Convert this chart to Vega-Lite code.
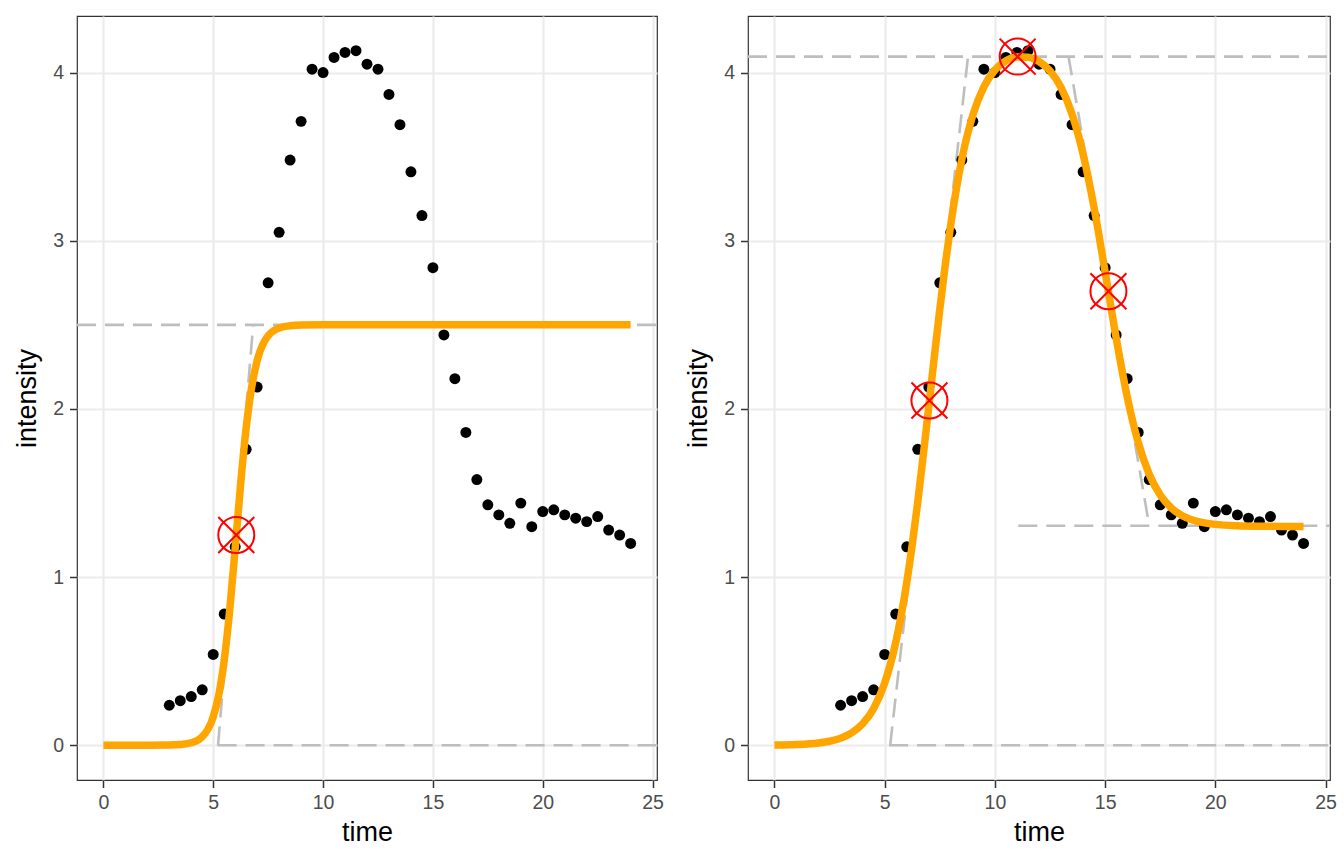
{
  "$schema": "https://vega.github.io/schema/vega-lite/v6.json",
  "background": "white",
  "padding": {"left": 13, "top": 15, "right": 10, "bottom": 5},
  "bounds": "flush",
  "spacing": 91,
  "datasets": {
    "obs": [
      {"t": 3, "y": 0.238}, {"t": 3.5, "y": 0.265}, {"t": 4, "y": 0.29}, {"t": 4.5, "y": 0.33},
      {"t": 5, "y": 0.54}, {"t": 5.5, "y": 0.78}, {"t": 6, "y": 1.18}, {"t": 6.5, "y": 1.76},
      {"t": 7, "y": 2.13}, {"t": 7.5, "y": 2.75}, {"t": 8, "y": 3.05}, {"t": 8.5, "y": 3.48},
      {"t": 9, "y": 3.71}, {"t": 9.5, "y": 4.02}, {"t": 10, "y": 4.0}, {"t": 10.5, "y": 4.09},
      {"t": 11, "y": 4.12}, {"t": 11.5, "y": 4.13}, {"t": 12, "y": 4.05}, {"t": 12.5, "y": 4.02},
      {"t": 13, "y": 3.87}, {"t": 13.5, "y": 3.69}, {"t": 14, "y": 3.41}, {"t": 14.5, "y": 3.15},
      {"t": 15, "y": 2.84}, {"t": 15.5, "y": 2.44}, {"t": 16, "y": 2.18}, {"t": 16.5, "y": 1.86},
      {"t": 17, "y": 1.58}, {"t": 17.5, "y": 1.43}, {"t": 18, "y": 1.37}, {"t": 18.5, "y": 1.32},
      {"t": 19, "y": 1.44}, {"t": 19.5, "y": 1.3}, {"t": 20, "y": 1.39}, {"t": 20.5, "y": 1.4},
      {"t": 21, "y": 1.37}, {"t": 21.5, "y": 1.35}, {"t": 22, "y": 1.33}, {"t": 22.5, "y": 1.36},
      {"t": 23, "y": 1.28}, {"t": 23.5, "y": 1.25}, {"t": 24, "y": 1.2}
    ],
    "fit": [
      {"panel": "sigmoidal", "t": 0, "y": 0}, {"panel": "sigmoidal", "t": 1, "y": 0},
      {"panel": "sigmoidal", "t": 2, "y": 0.0001}, {"panel": "sigmoidal", "t": 3, "y": 0.0012},
      {"panel": "sigmoidal", "t": 3.5, "y": 0.0043}, {"panel": "sigmoidal", "t": 4, "y": 0.0148},
      {"panel": "sigmoidal", "t": 4.5, "y": 0.0508}, {"panel": "sigmoidal", "t": 5, "y": 0.169},
      {"panel": "sigmoidal", "t": 5.25, "y": 0.298}, {"panel": "sigmoidal", "t": 5.5, "y": 0.5045},
      {"panel": "sigmoidal", "t": 5.75, "y": 0.802}, {"panel": "sigmoidal", "t": 6, "y": 1.172},
      {"panel": "sigmoidal", "t": 6.25, "y": 1.556}, {"panel": "sigmoidal", "t": 6.5, "y": 1.887},
      {"panel": "sigmoidal", "t": 6.75, "y": 2.13}, {"panel": "sigmoidal", "t": 7, "y": 2.287},
      {"panel": "sigmoidal", "t": 7.25, "y": 2.381}, {"panel": "sigmoidal", "t": 7.5, "y": 2.435},
      {"panel": "sigmoidal", "t": 7.75, "y": 2.4648}, {"panel": "sigmoidal", "t": 8, "y": 2.481},
      {"panel": "sigmoidal", "t": 8.5, "y": 2.4945}, {"panel": "sigmoidal", "t": 9, "y": 2.4985},
      {"panel": "sigmoidal", "t": 10, "y": 2.5}, {"panel": "sigmoidal", "t": 12, "y": 2.5},
      {"panel": "sigmoidal", "t": 16, "y": 2.5}, {"panel": "sigmoidal", "t": 20, "y": 2.5},
      {"panel": "sigmoidal", "t": 24, "y": 2.5},
      {"panel": "double", "t": 0, "y": 0.0014}, {"panel": "double", "t": 1, "y": 0.0044},
      {"panel": "double", "t": 2, "y": 0.0137}, {"panel": "double", "t": 2.5, "y": 0.024},
      {"panel": "double", "t": 3, "y": 0.042}, {"panel": "double", "t": 3.5, "y": 0.0733},
      {"panel": "double", "t": 4, "y": 0.1273}, {"panel": "double", "t": 4.5, "y": 0.2189},
      {"panel": "double", "t": 5, "y": 0.3703}, {"panel": "double", "t": 5.5, "y": 0.6105},
      {"panel": "double", "t": 6, "y": 0.967}, {"panel": "double", "t": 6.25, "y": 1.192},
      {"panel": "double", "t": 6.5, "y": 1.4465}, {"panel": "double", "t": 6.75, "y": 1.7235},
      {"panel": "double", "t": 7, "y": 2.014}, {"panel": "double", "t": 7.25, "y": 2.308},
      {"panel": "double", "t": 7.5, "y": 2.593}, {"panel": "double", "t": 7.75, "y": 2.859},
      {"panel": "double", "t": 8, "y": 3.098}, {"panel": "double", "t": 8.5, "y": 3.484},
      {"panel": "double", "t": 9, "y": 3.748}, {"panel": "double", "t": 9.5, "y": 3.9156},
      {"panel": "double", "t": 10, "y": 4.0152}, {"panel": "double", "t": 10.5, "y": 4.07},
      {"panel": "double", "t": 11, "y": 4.0924}, {"panel": "double", "t": 11.5, "y": 4.091},
      {"panel": "double", "t": 12, "y": 4.0657}, {"panel": "double", "t": 12.5, "y": 4.0098},
      {"panel": "double", "t": 13, "y": 3.9111}, {"panel": "double", "t": 13.5, "y": 3.752},
      {"panel": "double", "t": 14, "y": 3.5152}, {"panel": "double", "t": 14.5, "y": 3.1956},
      {"panel": "double", "t": 15, "y": 2.8147}, {"panel": "double", "t": 15.5, "y": 2.422},
      {"panel": "double", "t": 16, "y": 2.073}, {"panel": "double", "t": 16.5, "y": 1.8015},
      {"panel": "double", "t": 17, "y": 1.6114}, {"panel": "double", "t": 17.5, "y": 1.4878},
      {"panel": "double", "t": 18, "y": 1.4113}, {"panel": "double", "t": 18.5, "y": 1.3653},
      {"panel": "double", "t": 19, "y": 1.3383}, {"panel": "double", "t": 19.5, "y": 1.3225},
      {"panel": "double", "t": 20, "y": 1.3134}, {"panel": "double", "t": 21, "y": 1.3051},
      {"panel": "double", "t": 22, "y": 1.3023}, {"panel": "double", "t": 23, "y": 1.3015},
      {"panel": "double", "t": 24, "y": 1.3011}
    ],
    "guides": [
      {"panel": "sigmoidal", "x1": 5.2, "y1": 0, "x2": 25.2, "y2": 0},
      {"panel": "sigmoidal", "x1": 5.22, "y1": 0, "x2": 6.82, "y2": 2.5},
      {"panel": "sigmoidal", "x1": -1.2, "y1": 2.5, "x2": 25.2, "y2": 2.5},
      {"panel": "double", "x1": 5.2, "y1": 0, "x2": 25.2, "y2": 0},
      {"panel": "double", "x1": 5.25, "y1": 0, "x2": 8.78, "y2": 4.095},
      {"panel": "double", "x1": -1.2, "y1": 4.095, "x2": 25.2, "y2": 4.095},
      {"panel": "double", "x1": 13.34, "y1": 4.095, "x2": 17.0, "y2": 1.305},
      {"panel": "double", "x1": 11.06, "y1": 1.305, "x2": 25.2, "y2": 1.305}
    ],
    "points": [
      {"panel": "sigmoidal", "t": 6.05, "y": 1.25},
      {"panel": "double", "t": 7.03, "y": 2.05},
      {"panel": "double", "t": 11.03, "y": 4.095},
      {"panel": "double", "t": 15.15, "y": 2.7}
    ]
  },
  "hconcat": [
    {
      "width": 580,
      "height": 764,
      "layer": [
        {
          "data": {"name": "guides"},
          "transform": [{"filter": "datum.panel == 'sigmoidal'"}],
          "mark": {"type": "rule", "color": "#BEBEBE", "strokeWidth": 2.6, "strokeDash": [19, 9]},
          "encoding": {
            "x": {"field": "x1", "type": "quantitative", "scale": {"domain": [-1.2, 25.2], "nice": false, "zero": false}, "axis": {"values": [0, 5, 10, 15, 20, 25], "title": "time"}},
            "x2": {"field": "x2"},
            "y": {"field": "y1", "type": "quantitative", "scale": {"domain": [-0.2065, 4.3365], "nice": false, "zero": false}, "axis": {"values": [0, 1, 2, 3, 4], "format": "d", "title": "intensity"}},
            "y2": {"field": "y2"}
          }
        },
        {
          "data": {"name": "obs"},
          "mark": {"type": "circle", "color": "black", "opacity": 1, "size": 120},
          "encoding": {
            "x": {"field": "t", "type": "quantitative"},
            "y": {"field": "y", "type": "quantitative"}
          }
        },
        {
          "data": {"name": "fit"},
          "transform": [{"filter": "datum.panel == 'sigmoidal'"}],
          "mark": {"type": "line", "color": "#FFA500", "strokeWidth": 7.5, "interpolate": "monotone"},
          "encoding": {
            "x": {"field": "t", "type": "quantitative"},
            "y": {"field": "y", "type": "quantitative"}
          }
        },
        {
          "data": {"name": "points"},
          "transform": [{"filter": "datum.panel == 'sigmoidal'"}],
          "mark": {"type": "point", "shape": "circle", "color": "#FF0000", "filled": false, "opacity": 1, "strokeWidth": 2, "size": 1296},
          "encoding": {
            "x": {"field": "t", "type": "quantitative"},
            "y": {"field": "y", "type": "quantitative"}
          }
        },
        {
          "data": {"name": "points"},
          "transform": [{"filter": "datum.panel == 'sigmoidal'"}],
          "mark": {"type": "point", "shape": "M-1,-1L1,1M1,-1L-1,1", "color": "#FF0000", "filled": false, "opacity": 1, "strokeWidth": 2, "size": 1296},
          "encoding": {
            "x": {"field": "t", "type": "quantitative"},
            "y": {"field": "y", "type": "quantitative"}
          }
        }
      ]
    },
    {
      "width": 582,
      "height": 764,
      "layer": [
        {
          "data": {"name": "guides"},
          "transform": [{"filter": "datum.panel == 'double'"}],
          "mark": {"type": "rule", "color": "#BEBEBE", "strokeWidth": 2.6, "strokeDash": [19, 9]},
          "encoding": {
            "x": {"field": "x1", "type": "quantitative", "scale": {"domain": [-1.2, 25.2], "nice": false, "zero": false}, "axis": {"values": [0, 5, 10, 15, 20, 25], "title": "time"}},
            "x2": {"field": "x2"},
            "y": {"field": "y1", "type": "quantitative", "scale": {"domain": [-0.2065, 4.3365], "nice": false, "zero": false}, "axis": {"values": [0, 1, 2, 3, 4], "format": "d", "title": "intensity"}},
            "y2": {"field": "y2"}
          }
        },
        {
          "data": {"name": "obs"},
          "mark": {"type": "circle", "color": "black", "opacity": 1, "size": 120},
          "encoding": {
            "x": {"field": "t", "type": "quantitative"},
            "y": {"field": "y", "type": "quantitative"}
          }
        },
        {
          "data": {"name": "fit"},
          "transform": [{"filter": "datum.panel == 'double'"}],
          "mark": {"type": "line", "color": "#FFA500", "strokeWidth": 7.5, "interpolate": "monotone"},
          "encoding": {
            "x": {"field": "t", "type": "quantitative"},
            "y": {"field": "y", "type": "quantitative"}
          }
        },
        {
          "data": {"name": "points"},
          "transform": [{"filter": "datum.panel == 'double'"}],
          "mark": {"type": "point", "shape": "circle", "color": "#FF0000", "filled": false, "opacity": 1, "strokeWidth": 2, "size": 1296},
          "encoding": {
            "x": {"field": "t", "type": "quantitative"},
            "y": {"field": "y", "type": "quantitative"}
          }
        },
        {
          "data": {"name": "points"},
          "transform": [{"filter": "datum.panel == 'double'"}],
          "mark": {"type": "point", "shape": "M-1,-1L1,1M1,-1L-1,1", "color": "#FF0000", "filled": false, "opacity": 1, "strokeWidth": 2, "size": 1296},
          "encoding": {
            "x": {"field": "t", "type": "quantitative"},
            "y": {"field": "y", "type": "quantitative"}
          }
        }
      ]
    }
  ],
  "config": {
    "view": {"stroke": "#333333", "strokeWidth": 1.2},
    "axis": {
      "domain": false,
      "grid": true,
      "gridColor": "#EBEBEB",
      "gridWidth": 2.1,
      "tickColor": "#333333",
      "tickWidth": 1.5,
      "tickSize": 7.5,
      "labelFlush": false,
      "labelFont": "Liberation Sans",
      "labelFontSize": 19.5,
      "labelColor": "#4D4D4D",
      "labelPadding": 6,
      "titleFont": "Liberation Sans",
      "titleFontSize": 27,
      "titleFontWeight": "normal",
      "titleColor": "#000000"
    },
    "axisX": {"titlePadding": 7},
    "axisY": {"titlePadding": 11}
  }
}
